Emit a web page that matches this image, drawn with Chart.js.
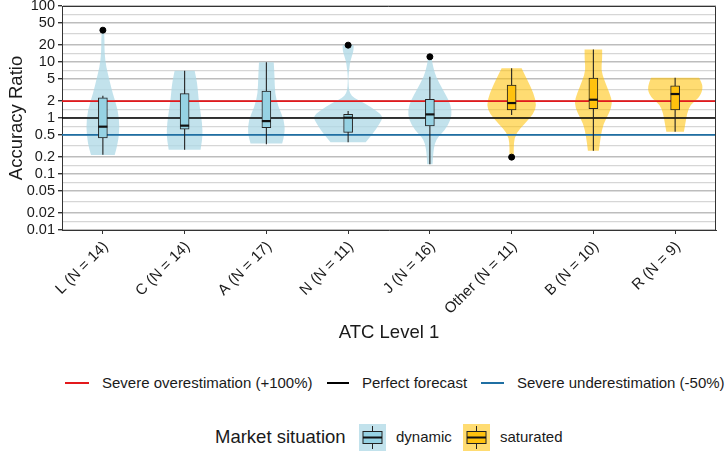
<!DOCTYPE html>
<html lang="en">
<head>
    <meta charset="UTF-8">
    <title>Accuracy Ratio by ATC Level 1</title>
    <script src="https://cdn.jsdelivr.net/npm/chart.js@4.4.1/dist/chart.umd.min.js"></script>
    <style>
        body {
            margin: 0;
            padding: 0;
            background: #fff;
            font-family: "Liberation Sans", Arial, sans-serif;
            color: #1a1a1a;
        }
        .page {
            position: relative;
            width: 726px;
            height: 465px;
            overflow: hidden;
        }
        #chart { position: absolute; left: 0; top: 0; }
        .lg { position: absolute; white-space: nowrap; }
        .lg-text { font-size: 15px; line-height: 18px; }
        .lg-line { height: 2px; }
        .lg-title { font-size: 18.5px; line-height: 22px; }
    </style>
</head>
<body>
<div class="page">
    <canvas id="chart" width="726" height="350"></canvas>

    <!-- reference line legend -->
    <div class="lg lg-line" style="left:65px; top:382px; width:24px; background:#e3191c;"></div>
    <div class="lg lg-text" style="left:102px; top:374px;">Severe overestimation (+100%)</div>
    <div class="lg lg-line" style="left:327px; top:382px; width:22px; background:#000;"></div>
    <div class="lg lg-text" style="left:362px; top:374px;">Perfect forecast</div>
    <div class="lg lg-line" style="left:481px; top:382px; width:23px; background:#1f6fa3;"></div>
    <div class="lg lg-text" style="left:517px; top:374px;">Severe underestimation (-50%)</div>

    <!-- market situation legend -->
    <div class="lg lg-title" style="left:215px; top:426px;">Market situation</div>
    <svg class="lg" style="left:359px; top:424px;" width="27" height="27" id="keyDynamic"></svg>
    <div class="lg lg-text" style="left:396px; top:428px;">dynamic</div>
    <svg class="lg" style="left:463px; top:424px;" width="27" height="27" id="keySaturated"></svg>
    <div class="lg lg-text" style="left:500px; top:428px;">saturated</div>
</div>

<script>
    // categories and groups
    const CATEGORIES = ['L (N = 14)', 'C (N = 14)', 'A (N = 17)', 'N (N = 11)', 'J (N = 16)', 'Other (N = 11)', 'B (N = 10)', 'R (N = 9)'];
    const MARKET = ['dynamic', 'dynamic', 'dynamic', 'dynamic', 'dynamic', 'saturated', 'saturated', 'saturated'];

    // box plot statistics (accuracy ratio)
    const WHISKER_LOW  = [0.22, 0.27, 0.34, 0.37, 0.15, 1.13, 0.26, 0.57];
    const Q1           = [0.44, 0.63, 0.67, 0.555, 0.72, 1.39, 1.47, 1.39];
    const MEDIAN       = [0.70, 0.73, 0.88, 1.01, 1.16, 1.85, 2.12, 2.68];
    const Q3           = [2.3, 2.72, 3.03, 1.16, 2.16, 3.88, 5.18, 3.77];
    const WHISKER_HIGH = [2.5, 7.0, 9.9, 1.33, 5.47, 7.7, 16.8, 5.25];
    const OUTLIERS     = [37, null, null, 20, 12.4, 0.2, null, null];

    // violin outlines: levels (bottom to top) and relative density at each level
    const VIOLIN_LEVELS = [
        [0.218, 0.353, 0.70, 1.39, 2.76, 4.77, 8.25, 14.3, 24.7, 34.8],
        [0.27, 0.31, 0.46, 0.80, 1.39, 2.4, 4.17, 7.0],
        [0.35, 0.53, 0.92, 1.59, 2.76, 5.47, 9.9],
        [0.37, 0.53, 0.80, 1.06, 1.39, 1.83, 2.25, 2.76, 3.62, 5.47, 7.2, 10.8, 14.3, 18.8, 20.1],
        [0.15, 0.234, 0.353, 0.46, 0.61, 0.92, 1.39, 2.1, 3.16, 5.47, 8.25, 10.8, 12.4],
        [0.204, 0.234, 0.353, 0.53, 0.80, 1.21, 1.71, 2.76, 4.77, 7.7],
        [0.26, 0.46, 0.80, 1.21, 1.83, 2.76, 4.77, 7.2, 10.8, 16.8],
        [0.57, 0.80, 1.21, 1.71, 2.4, 3.62, 5.25]
    ];
    const VIOLIN_DENSITY = [
        [0.29, 0.37, 0.41, 0.37, 0.24, 0.16, 0.08, 0.04, 0.04, 0.03],
        [0.39, 0.40, 0.44, 0.43, 0.38, 0.335, 0.31, 0.245],
        [0.386, 0.457, 0.435, 0.29, 0.21, 0.2, 0.18],
        [0.43, 0.61, 0.775, 0.86, 0.67, 0.41, 0.147, 0.04, 0.012, 0.007, 0.024, 0.056, 0.12, 0.14, 0.13],
        [0.066, 0.08, 0.12, 0.2, 0.37, 0.51, 0.54, 0.46, 0.32, 0.147, 0.08, 0.05, 0.04],
        [0.04, 0.056, 0.05, 0.1, 0.325, 0.54, 0.61, 0.54, 0.386, 0.245],
        [0.134, 0.176, 0.245, 0.386, 0.47, 0.4, 0.264, 0.19, 0.215, 0.215],
        [0.215, 0.25, 0.293, 0.367, 0.61, 0.69, 0.587]
    ];

    // reference lines
    const REF_VALUES = [2, 1, 0.5];
    const REF_COLORS = ['#e3191c', '#000000', '#1f6fa3'];

    // y axis breaks
    const Y_BREAKS = [0.01, 0.02, 0.05, 0.1, 0.2, 0.5, 1, 2, 5, 10, 20, 50, 100];

    const VIOLIN_FILL = { dynamic: 'rgba(173,216,230,0.75)', saturated: 'rgba(255,193,7,0.57)' };
    const BOX_FILL = { dynamic: '#96d2e3', saturated: '#ffc20e' };

    // minor gridlines sit halfway between breaks on the log scale
    const yTicks = [];
    Y_BREAKS.forEach((b, i) => {
        yTicks.push(b);
        if (i < Y_BREAKS.length - 1) yTicks.push(Math.sqrt(b * Y_BREAKS[i + 1]));
    });
    const isBreak = v => Y_BREAKS.some(b => Math.abs(b - v) / b < 1e-6);

    function smoothSide(ctx, pts, move) {
        if (move) ctx.moveTo(pts[0][0], pts[0][1]);
        else ctx.lineTo(pts[0][0], pts[0][1]);
        for (let i = 1; i < pts.length - 1; i++) {
            const mx = (pts[i][0] + pts[i + 1][0]) / 2;
            const my = (pts[i][1] + pts[i + 1][1]) / 2;
            ctx.quadraticCurveTo(pts[i][0], pts[i][1], mx, my);
        }
        const last = pts[pts.length - 1];
        ctx.lineTo(last[0], last[1]);
    }

    const violinPlugin = {
        id: 'violins',
        beforeDatasetsDraw(chart) {
            const { ctx, chartArea, scales: { x, y } } = chart;
            const half = (x.getPixelForValue(1) - x.getPixelForValue(0)) / 2;
            ctx.save();
            ctx.beginPath();
            ctx.rect(chartArea.left, chartArea.top, chartArea.width, chartArea.height);
            ctx.clip();

            CATEGORIES.forEach((c, i) => {
                const cx = x.getPixelForValue(i);
                const right = VIOLIN_LEVELS[i].map((v, k) => [cx + VIOLIN_DENSITY[i][k] * half, y.getPixelForValue(v)]);
                const left = right.map(p => [2 * cx - p[0], p[1]]).reverse();
                ctx.beginPath();
                smoothSide(ctx, right, true);
                smoothSide(ctx, left, false);
                ctx.closePath();
                ctx.fillStyle = VIOLIN_FILL[MARKET[i]];
                ctx.fill();
            });

            REF_VALUES.forEach((v, i) => {
                const py = y.getPixelForValue(v);
                ctx.beginPath();
                ctx.moveTo(chartArea.left, py);
                ctx.lineTo(chartArea.right, py);
                ctx.strokeStyle = REF_COLORS[i];
                ctx.lineWidth = 1.6;
                ctx.stroke();
            });

            ctx.strokeStyle = '#222';
            ctx.lineWidth = 1.1;
            CATEGORIES.forEach((c, i) => {
                const cx = x.getPixelForValue(i);
                ctx.beginPath();
                ctx.moveTo(cx, y.getPixelForValue(WHISKER_LOW[i]));
                ctx.lineTo(cx, y.getPixelForValue(WHISKER_HIGH[i]));
                ctx.stroke();
            });
            ctx.restore();
        },
        afterDatasetsDraw(chart) {
            const { ctx, chartArea, scales: { x, y } } = chart;
            ctx.save();
            ctx.strokeStyle = '#111';
            ctx.lineWidth = 2.2;
            CATEGORIES.forEach((c, i) => {
                const cx = x.getPixelForValue(i);
                const py = y.getPixelForValue(MEDIAN[i]);
                ctx.beginPath();
                ctx.moveTo(cx - 4.5, py);
                ctx.lineTo(cx + 4.5, py);
                ctx.stroke();
            });
            // close the panel border on top and right
            ctx.strokeStyle = '#333';
            ctx.lineWidth = 1;
            ctx.beginPath();
            ctx.moveTo(chartArea.left, chartArea.top + 0.5);
            ctx.lineTo(chartArea.right - 0.5, chartArea.top + 0.5);
            ctx.lineTo(chartArea.right - 0.5, chartArea.bottom);
            ctx.stroke();
            ctx.restore();
        }
    };

    function createChart() {
        const ctx = document.getElementById('chart').getContext('2d');

        new Chart(ctx, {
            type: 'bar',
            data: {
                labels: CATEGORIES,
                datasets: [
                    {
                        label: 'box',
                        data: CATEGORIES.map((c, i) => [Q1[i], Q3[i]]),
                        backgroundColor: MARKET.map(m => BOX_FILL[m]),
                        borderColor: '#222',
                        borderWidth: 1,
                        borderSkipped: false,
                        barThickness: 9,
                        order: 2
                    },
                    {
                        type: 'line',
                        label: 'outliers',
                        data: OUTLIERS,
                        showLine: false,
                        pointRadius: 3,
                        pointBackgroundColor: '#000',
                        pointBorderColor: '#000',
                        order: 1
                    }
                ]
            },
            options: {
                responsive: false,
                animation: false,
                layout: { padding: { left: 0, right: 10, top: 6, bottom: 0 } },
                plugins: {
                    legend: { display: false },
                    tooltip: { enabled: false }
                },
                scales: {
                    x: {
                        offset: true,
                        grid: { display: true, drawOnChartArea: false, offset: false, tickLength: 4, color: '#333' },
                        border: { display: true, color: '#333', width: 1 },
                        ticks: {
                            autoSkip: false,
                            maxRotation: 45,
                            minRotation: 45,
                            padding: 4,
                            labelOffset: 3,
                            color: '#1a1a1a',
                            font: { family: '"Liberation Sans", Arial, sans-serif', size: 15 }
                        },
                        title: {
                            display: true,
                            text: 'ATC Level 1',
                            color: '#1a1a1a',
                            padding: { top: 4, bottom: 6 },
                            font: { family: '"Liberation Sans", Arial, sans-serif', size: 18.5 }
                        },
                        afterFit(scale) {
                            scale.height = 120;
                            scale.paddingLeft = 0;
                            scale.paddingRight = 0;
                        }
                    },
                    y: {
                        type: 'logarithmic',
                        min: 0.01,
                        max: 100,
                        afterBuildTicks(scale) {
                            scale.ticks = yTicks.map(v => ({ value: v }));
                        },
                        grid: {
                            color: c => isBreak(c.tick.value) ? '#bdbdbd' : '#d6d6d6',
                            lineWidth: c => isBreak(c.tick.value) ? 1.4 : 1.2,
                            tickColor: c => isBreak(c.tick.value) ? '#333' : 'rgba(0,0,0,0)',
                            tickLength: 4
                        },
                        border: { display: true, color: '#333', width: 1 },
                        ticks: {
                            autoSkip: false,
                            padding: 3,
                            color: '#1a1a1a',
                            font: { family: '"Liberation Sans", Arial, sans-serif', size: 14.5 },
                            callback: v => isBreak(v) ? String(v) : ''
                        },
                        title: {
                            display: true,
                            text: 'Accuracy Ratio',
                            color: '#1a1a1a',
                            padding: { top: 6, bottom: 0 },
                            font: { family: '"Liberation Sans", Arial, sans-serif', size: 18.5 }
                        },
                        afterFit(scale) {
                            scale.width = 62;
                            scale.paddingTop = 0;
                            scale.paddingBottom = 0;
                        }
                    }
                }
            },
            plugins: [violinPlugin]
        });
    }

    function drawKey(id, market) {
        const svg = document.getElementById(id);
        svg.innerHTML =
            '<rect x="0" y="0" width="27" height="27" fill="' + VIOLIN_FILL[market] + '"/>' +
            '<line x1="13.5" y1="2" x2="13.5" y2="25" stroke="#222" stroke-width="1"/>' +
            '<rect x="4" y="7.5" width="19" height="12" fill="' + BOX_FILL[market] + '" stroke="#222" stroke-width="1"/>' +
            '<line x1="4" y1="13.5" x2="23" y2="13.5" stroke="#111" stroke-width="2"/>';
    }

    createChart();
    drawKey('keyDynamic', 'dynamic');
    drawKey('keySaturated', 'saturated');
</script>
</body>
</html>
